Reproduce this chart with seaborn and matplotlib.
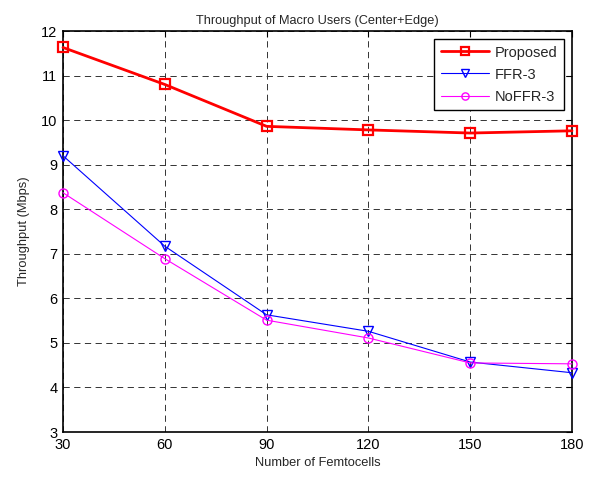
import matplotlib
matplotlib.use("Agg")
import matplotlib.pyplot as plt
import seaborn as sns
import pandas as pd

femtocells = [30, 60, 90, 120, 150, 180]
proposed = [11.63, 10.80, 9.86, 9.78, 9.71, 9.76]
ffr3 = [9.20, 7.17, 5.63, 5.26, 4.57, 4.33]
noffr3 = [8.37, 6.89, 5.51, 5.11, 4.55, 4.53]

sns.set_theme(style="white")
plt.rcParams['font.family'] = ['Liberation Sans', 'DejaVu Sans']
plt.rcParams['lines.scale_dashes'] = False

fig = plt.figure(figsize=(6.01, 4.78), dpi=100)
ax = fig.add_axes([63/601, 1-432/478, (572-63)/601, (432-31)/478])

series = [
    ("Proposed", proposed, "#ff0000", "s", 2.0, 6.5, 1.6),
    ("FFR-3", ffr3, "#0000ff", "v", 0.8, 7, 1.0),
    ("NoFFR-3", noffr3, "#ff00ff", "o", 0.8, 6.5, 1.0),
]
for name, vals, col, mk, lw, ms, mew in series:
    df = pd.DataFrame({"x": femtocells, "y": vals})
    sns.lineplot(data=df, x="x", y="y", ax=ax, color=col, marker=mk, lw=lw,
                 markersize=ms, markerfacecolor="none", markeredgecolor=col,
                 markeredgewidth=mew, label=name, clip_on=False, zorder=3)

ax.set_xlim(30, 180)
ax.set_ylim(3, 12)
ax.set_xticks(femtocells)
ax.set_yticks(range(3, 13))
ax.grid(True, color="#333333", linestyle=(0, (4.5, 3.2)), linewidth=0.7)
ax.tick_params(direction="in", length=4, width=0.8, labelsize=10.5, colors="black",
               top=True, right=True, pad=4)
for s in ax.spines.values():
    s.set_color("black")
    s.set_linewidth(1.2)
ax.set_xlabel("Number of Femtocells", fontsize=9.3, labelpad=4)
ax.set_ylabel("Throughput (Mbps)", fontsize=9.3, labelpad=8)
ax.set_title("Throughput of Macro Users (Center+Edge)", fontsize=9.2, pad=5)
leg = ax.legend(loc="upper right", fontsize=10.5, frameon=True, fancybox=False,
                edgecolor="black", framealpha=1, borderaxespad=0.55, handlelength=3.3,
                markerscale=0.8, labelspacing=0.55, borderpad=0.45, handletextpad=0.4)
leg.get_frame().set_linewidth(1.0)

fig.savefig("out.png", dpi=100)
